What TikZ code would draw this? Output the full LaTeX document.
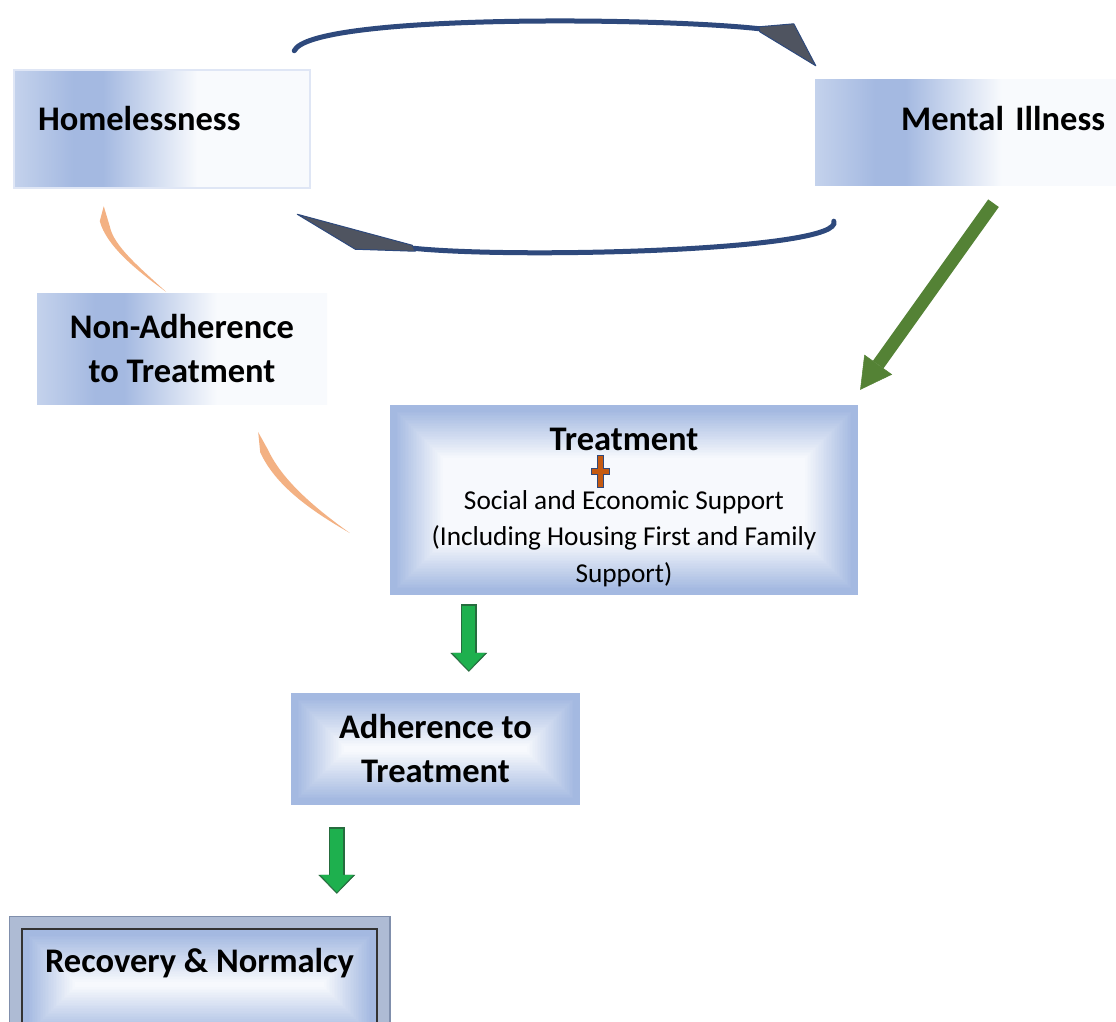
\documentclass[tikz,border=0pt]{standalone}
\usepackage{fontspec}
\setmainfont{Carlito}
\usetikzlibrary{arrows.meta,calc}
\definecolor{cellblue}{RGB}{164,185,225}
\definecolor{cellpale}{RGB}{196,210,236}
\definecolor{cellwhite}{RGB}{248,250,253}
\definecolor{arcnavy}{RGB}{46,73,124}
\definecolor{headgray}{RGB}{79,84,96}
\definecolor{mossgreen}{RGB}{84,130,53}
\definecolor{leafgreen}{RGB}{30,176,78}
\definecolor{leafedge}{RGB}{38,108,62}
\definecolor{peach}{RGB}{243,177,131}
\definecolor{plusfill}{RGB}{197,90,17}
\definecolor{bevel}{RGB}{174,187,212}
\definecolor{bevelrim}{RGB}{128,143,172}
\pgfdeclarehorizontalshading{sidefade}{100bp}{color(0bp)=(cellpale); color(25bp)=(cellpale); color(35bp)=(cellblue); color(40bp)=(cellblue); color(56bp)=(cellwhite); color(100bp)=(cellwhite)}
\begin{document}
\begin{tikzpicture}[x=1pt, y=-1pt,
  sidebox/.style={shading=sidefade, inner ysep=0pt, font=\fontsize{34.5}{44}\selectfont\bfseries},
  midbox/.style={fill=cellblue, inner sep=0pt, align=center, font=\fontsize{34.5}{44}\selectfont\bfseries,
    path picture={\foreach \k [evaluate=\k as \w using 3.3*\k] in {1,...,30}
      \fill[cellwhite!\w!cellblue] ([shift={(5+1.6*\k,5+1.6*\k)}]path picture bounding box.north west) rectangle ([shift={(-5-1.6*\k,-5-1.6*\k)}]path picture bounding box.south east);}},
  navyline/.style={draw=arcnavy, line width=5pt, line cap=round},
  navyhead/.style={fill=headgray, draw=arcnavy, line width=1pt, line join=round},
  mossarrow/.style={draw=mossgreen, line width=13pt, -{Triangle[width=34pt,length=31pt,line width=0.5pt]}},
  leafarrow/.style={preaction={draw=leafedge, line width=16pt, shorten >=0pt, shorten <=0pt, -{Triangle[width=37pt,length=19pt,line width=0.5pt]}},
    draw=leafgreen, line width=13pt, shorten >=1.6pt, shorten <=1.5pt, -{Triangle[width=33pt,length=17.4pt,line width=0.5pt]}},
  plussign/.style={fill=plusfill, draw=arcnavy, line width=1pt}]
\useasboundingbox (0,0) rectangle (1116,1022);
\clip (0,0) rectangle (1116,1022);
\fill[white] (0,0) rectangle (1116,1022);

\node (H)[sidebox, draw=cellpale!55!white, line width=2.5pt, minimum width=296pt, minimum height=118pt, inner xsep=24pt, text width=248pt, align=left, text depth=20.5pt] at (162,129) {Homelessness};
\node (M)[sidebox, minimum width=301pt, minimum height=105pt, inner xsep=11pt, text width=279pt, align=right, text depth=27.5pt] at (965.5,132.5) {Mental Illness};
\node (N)[sidebox, minimum width=290pt, minimum height=111pt, inner xsep=0pt, align=center] at (182,348.5) {Non-Adherence\\to Treatment};
\node (T)[midbox, minimum width=468pt, minimum height=190pt, font=\fontsize{27.3}{36.5}\selectfont] at (624,500) {{\fontsize{34.5}{36.5}\selectfont\bfseries\rule{0pt}{37pt}Treatment}\\[22.5pt]Social and Economic Support\\(Including Housing First and Family\\Support)};
\node (A)[midbox, minimum width=289pt, minimum height=112pt] at (435.5,749) {Adherence to\\Treatment};
\node (R)[midbox, preaction={draw=bevelrim, line width=27pt}, preaction={draw=bevel, line width=24pt}, draw=black!80, line width=2.5pt, minimum width=355pt, minimum height=111pt, text depth=47.5pt] at (199.5,984.5) {Recovery \& Normalcy};

\coordinate (e1) at ([shift={(-55,-51)}]M.north west);
\coordinate (e2) at ([shift={(102,59)}]H.south east);
\draw[navyline] ([shift={(-17,-18)}]H.north east) .. controls +(17,-36) and +(-110,-12) .. (e1);
\filldraw[navyhead] ($(e1)+(-1,-2)$) -- ($(e1)+(34,-5)$) -- ([shift={(1,-14)}]M.north west) -- ($(e1)+(0,3)$) -- cycle;
\draw[navyline] ([shift={(19,36)}]M.south west) .. controls +(11,29) and +(108,11) .. (e2);
\filldraw[navyhead] ($(e2)+(-1,-3)$) -- ([shift={(-14,25)}]H.south east) -- ($(e2)+(-58,1)$) -- ($(e2)+(2,3)$) -- cycle;

\coordinate (p1) at ([shift={(91,17)}]H.south west);
\coordinate (p2) at ([shift={(-16,-1)}]N.north);
\coordinate (p3) at ([shift={(-69,28)}]N.south east);
\coordinate (p4) at ([shift={(-40,33)}]T.west);
\fill[fill=peach] (p1) -- ++(-4,15) .. controls +(7,25) and +(-30,-22) .. (p2) .. controls +(-26,-24) and +(4,20) .. ($(p1)+(6,20)$) -- cycle;
\fill[fill=peach] (p3) -- ++(2,20) .. controls +(15,33) and +(-40,-23) .. (p4) .. controls +(-35,-25) and +(14,30) .. ($(p3)+(10,18)$) -- cycle;

\draw[mossarrow] ([shift={(28,18)}]M.south) -- ([shift={(2,-15)}]T.north east);

\coordinate (g1) at ([shift={(79,9)}]T.south west);
\coordinate (g2) at ([shift={(46,22)}]A.south west);
\foreach \p/\q/\g in {g1/A/21, g2/R/34}
{
	\draw[leafarrow] (\p) -- ($(\p |- \q.north)+(0,-\g)$);
}

\filldraw[plussign] ($(T.center)+(-24,-29)$) ++(-3,-16) -- ++(6,0) -- ++(0,13) -- ++(6,0) -- ++(0,6) -- ++(-6,0) -- ++(0,13) -- ++(-6,0) -- ++(0,-13) -- ++(-6,0) -- ++(0,-6) -- ++(6,0) -- cycle;
\end{tikzpicture}
\end{document}
